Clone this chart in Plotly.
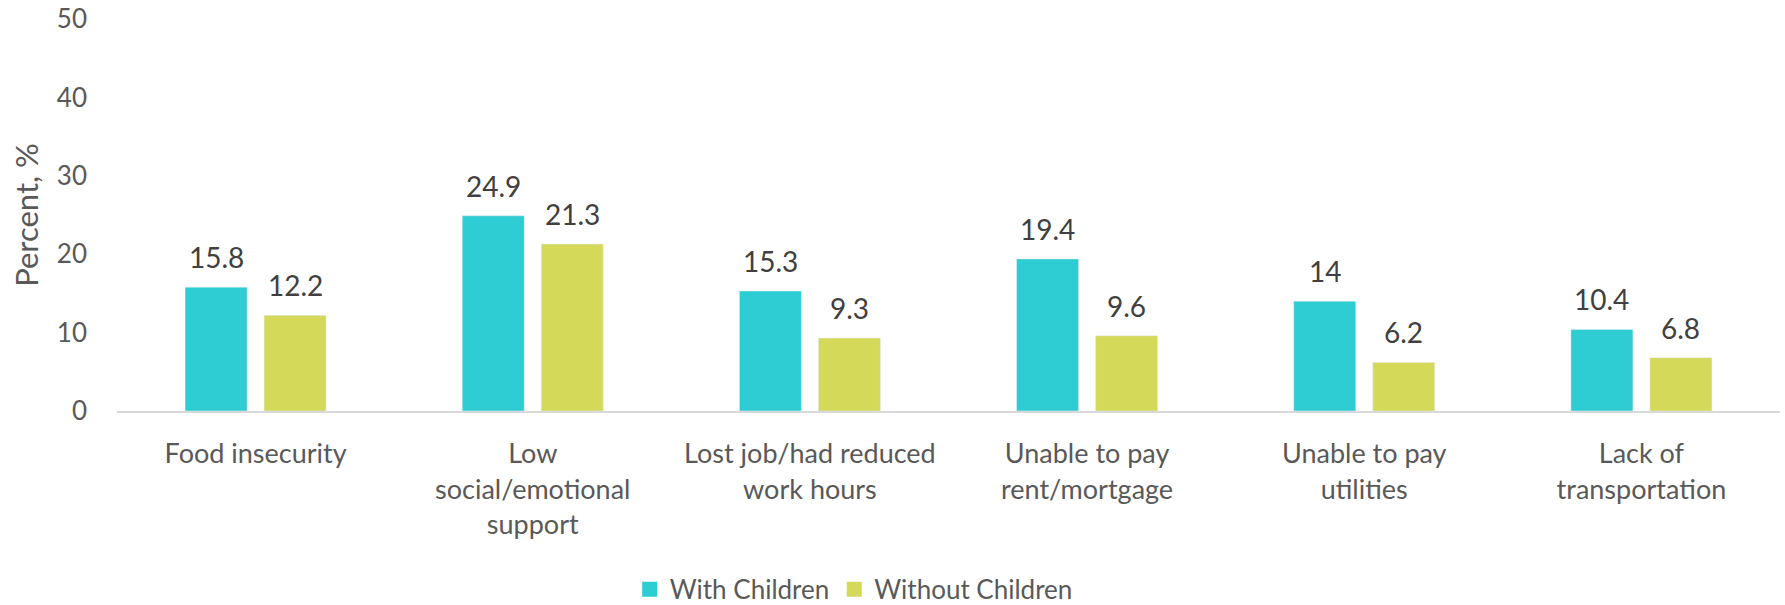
import plotly.graph_objects as go

categories = [
    "Food insecurity",
    "Low<br>social/emotional<br>support",
    "Lost job/had reduced<br>work hours",
    "Unable to pay<br>rent/mortgage",
    "Unable to pay<br>utilities",
    "Lack of<br>transportation",
]
with_children = [15.8, 24.9, 15.3, 19.4, 14, 10.4]
without_children = [12.2, 21.3, 9.3, 9.6, 6.2, 6.8]
series_names = ["With Children", "Without Children"]
y_ticks = [0, 10, 20, 30, 40, 50]

TEAL = "#2ECCD3"
LIME = "#D4D959"
TICK_GRAY = "#595959"
LABEL_DARK = "#404040"
FONT = "Lato"

W, H = 1785, 605
M_L, M_R, M_T, M_B = 117, 5, 19, 194
BARGAP, GROUPGAP = 0.43, 0.215

fig = go.Figure()
for name, vals, col in [(series_names[0], with_children, TEAL),
                        (series_names[1], without_children, LIME)]:
    fig.add_trace(go.Bar(
        x=categories, y=vals, name=name, marker_color=col,
        showlegend=False, hoverinfo="y",
    ))
    # legend entry with a larger square swatch
    fig.add_trace(go.Scatter(
        x=[None], y=[None], mode="markers", name=name,
        marker=dict(symbol="square", size=15, color=col),
    ))

# value labels above each bar, offset to its slot within the group
plot_w = W - M_L - M_R
cat_w = plot_w / len(categories)
slot = (1 - BARGAP) * cat_w / 2
for k, vals in enumerate([with_children, without_children]):
    shift = (k - 0.5) * slot
    for c, v in zip(categories, vals):
        fig.add_annotation(
            x=c, y=v, text=f"{v:g}", showarrow=False,
            xshift=shift, yshift=30, yanchor="middle",
            font=dict(family=FONT, size=28, color=LABEL_DARK),
        )

fig.update_layout(
    width=W, height=H,
    margin=dict(l=M_L, r=M_R, t=M_T, b=M_B, autoexpand=False),
    paper_bgcolor="white", plot_bgcolor="white",
    barmode="group", bargap=BARGAP, bargroupgap=GROUPGAP,
    font=dict(family=FONT, size=26, color=TICK_GRAY),
    legend=dict(
        orientation="h", x=0.443, xanchor="center",
        yref="container", y=0.026, yanchor="middle",
        font=dict(family=FONT, size=26, color=TICK_GRAY),
        itemwidth=30, tracegroupgap=0,
    ),
    xaxis=dict(
        showline=True, linecolor="#D9D9D9", linewidth=2,
        showgrid=False, ticks="", ticklabelstandoff=18, automargin=False,
        tickfont=dict(family=FONT, size=27, color=TICK_GRAY),
    ),
    yaxis=dict(
        range=[0, 50.01], tickvals=y_ticks, showgrid=False, zeroline=False,
        showline=False, ticks="", ticklabelstandoff=29, automargin=False,
        ticklabeloverflow="allow",
        tickfont=dict(family=FONT, size=26, color=TICK_GRAY),
        title=dict(text="Percent, %", standoff=8,
                   font=dict(family=FONT, size=31, color=TICK_GRAY)),
    ),
)

fig.write_html("out.html")
